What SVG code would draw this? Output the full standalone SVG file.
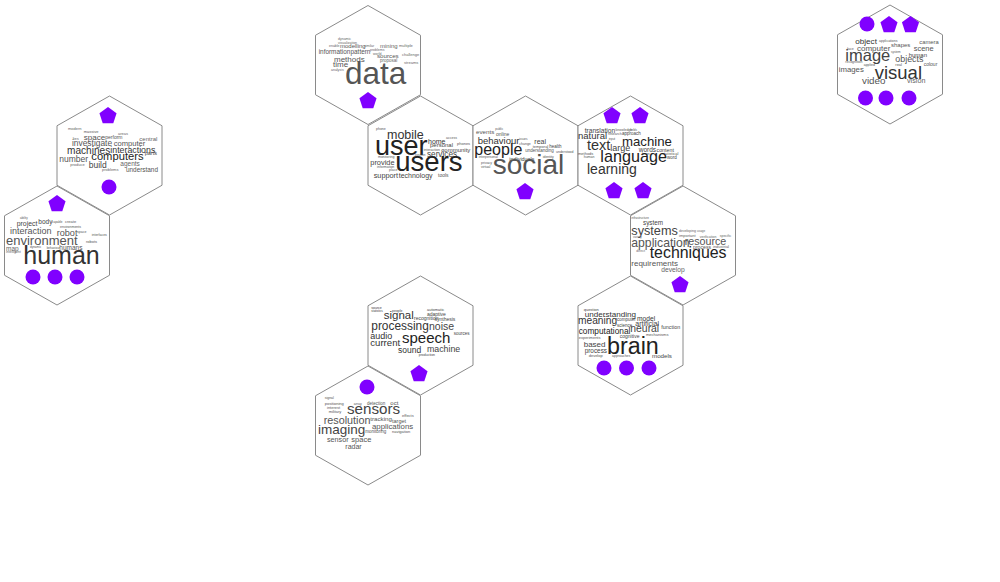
<svg xmlns="http://www.w3.org/2000/svg" width="1000" height="582" viewBox="0 0 1000 582">
<style>
text{font-family:"Liberation Sans",Arial,sans-serif;fill:#555}
.hx{fill:#fff;stroke:#8a8a8a;stroke-width:1}
.mk{fill:#8000ff}
.d1{fill:#222}.d2{fill:#333}.d3{fill:#444}.d5{fill:#555}.d6{fill:#666}.d7{fill:#777}
</style>
<defs>
<polygon id="hex" class="hx" points="0,-59.5 52.5,-29.75 52.5,29.75 0,59.5 -52.5,29.75 -52.5,-29.75"/>
<polygon id="pent" class="mk" points="0,-9 8.56,-2.78 5.29,7.28 -5.29,7.28 -8.56,-2.78"/>
<circle id="dot" class="mk" r="7.5"/>
</defs>
<rect width="1000" height="582" fill="#fff"/>

<g id="hexagons">
<use href="#hex" x="368" y="65"/>
<use href="#hex" x="420.5" y="155.5"/>
<use href="#hex" x="525.5" y="155.5"/>
<use href="#hex" x="630.5" y="155.5"/>
<use href="#hex" x="683" y="245.5"/>
<use href="#hex" x="630.5" y="335.5"/>
<use href="#hex" x="420.5" y="335.5"/>
<use href="#hex" x="368" y="425.5"/>
<use href="#hex" x="890" y="64.5"/>
<use href="#hex" x="109.5" y="155.5"/>
<use href="#hex" x="57" y="245.5"/>
</g>

<g id="node-data">
<text x="338" y="40" font-size="3.5" class="d6">dynamic</text>
<text x="338" y="43.5" font-size="3.5" class="d6">visualization</text>
<text x="329" y="47" font-size="3.5" class="d6">enable</text>
<text x="340" y="47.5" font-size="6" class="d5">modelling</text>
<text x="364" y="47" font-size="3.5" class="d6">similar</text>
<text x="380" y="47.5" font-size="6" class="d6">mining</text>
<text x="399" y="47" font-size="4" class="d6">multiple</text>
<text x="318.7" y="53.5" font-size="6.4" class="d5">information</text>
<text x="350.5" y="53.5" font-size="6.4" class="d5">pattern</text>
<text x="370" y="51" font-size="3.5" class="d6">problems</text>
<text x="373" y="55" font-size="3.5" class="d6">world</text>
<text x="377" y="58" font-size="6.2" class="d5">sources</text>
<text x="402" y="56" font-size="4" class="d6">challenge</text>
<text x="334" y="62" font-size="8" class="d5">methods</text>
<text x="380" y="62" font-size="4.5" class="d6">proposal</text>
<text x="333" y="67" font-size="8" class="d5">time</text>
<text x="404" y="64" font-size="4" class="d6">streams</text>
<text x="331" y="71" font-size="3.5" class="d6">analysis</text>
<text x="345" y="83.5" font-size="31.5" fill="#5a5a5a">data</text>
<use href="#pent" x="368" y="101"/>
</g>

<g id="node-users">
<text x="376" y="130.3" font-size="3.5" class="d5">phone</text>
<text x="387" y="138.7" font-size="12.5" class="d2">mobile</text>
<text x="375" y="154.7" font-size="27" class="d1">user</text>
<text x="428" y="143.7" font-size="7" class="d2">home</text>
<text x="446" y="139" font-size="3.5" class="d5">access</text>
<text x="430" y="147.2" font-size="6" class="d3">personal</text>
<text x="457" y="144.5" font-size="4" class="d5">phones</text>
<text x="423.7" y="150.5" font-size="3.5" class="d5">interaction</text>
<text x="441.3" y="151.5" font-size="6" class="d3">community</text>
<text x="427" y="157" font-size="8.2" class="d3">services</text>
<text x="378" y="158" font-size="3.5" class="d5">monitoring</text>
<text x="415" y="156" font-size="3" class="d5">position</text>
<text x="370.3" y="164.7" font-size="7.4" class="d3">provide</text>
<text x="377" y="167.5" font-size="3.5" class="d5">information</text>
<text x="395.3" y="171.3" font-size="27.5" class="d1">users</text>
<text x="389" y="171" font-size="3.5" class="d5">place</text>
<text x="373.7" y="177.5" font-size="7.3" class="d3">support</text>
<text x="398.7" y="177.5" font-size="7" class="d3">technology</text>
<text x="438" y="176.5" font-size="5" class="d5">tools</text>
</g>

<g id="node-social">
<text x="476" y="133.7" font-size="6.2" class="d5">events</text>
<text x="495.3" y="129.5" font-size="3" class="d5">public</text>
<text x="496" y="135.9" font-size="5" class="d5">online</text>
<text x="477.7" y="143.7" font-size="9.5" class="d2">behaviour</text>
<text x="519" y="139.5" font-size="3" class="d5">issues</text>
<text x="534.3" y="144" font-size="7" class="d3">real</text>
<text x="519.3" y="145.3" font-size="3.5" class="d5">change</text>
<text x="532.7" y="147.5" font-size="4" class="d5">temporal</text>
<text x="549.3" y="147.5" font-size="4.5" class="d3">health</text>
<text x="474.3" y="154.7" font-size="16" class="d1">people</text>
<text x="525.3" y="152.3" font-size="4.5" class="d5">understanding</text>
<text x="556" y="153" font-size="3.5" class="d5">understood</text>
<text x="478.7" y="158.3" font-size="3.3" class="d5">interpersonal</text>
<text x="509.3" y="160.7" font-size="5.4" class="d3">individuals</text>
<text x="542.7" y="157.5" font-size="3.5" class="d5">identity</text>
<text x="481" y="164" font-size="3.5" class="d5">privacy</text>
<text x="481" y="167.6" font-size="3.5" class="d5">virtual</text>
<text x="492.7" y="174.3" font-size="28" fill="#111">social</text>
<use href="#pent" x="525" y="192"/>
</g>

<g id="node-language">
<use href="#pent" x="612" y="116"/>
<use href="#pent" x="640" y="116"/>
<text x="584.7" y="132.7" font-size="6.6" class="d3">translation</text>
<text x="615.5" y="130.5" font-size="3.5" class="d5">knowledge</text>
<text x="630" y="130.5" font-size="3" class="d5">fields</text>
<text x="578" y="138.7" font-size="9.5" class="d2">natural</text>
<text x="608" y="135" font-size="3.5" class="d5">research</text>
<text x="622" y="134.5" font-size="4.5" class="d3">approach</text>
<text x="608.7" y="140" font-size="3" class="d5">input</text>
<text x="622" y="146" font-size="13.2" class="d1">machine</text>
<text x="587" y="150.3" font-size="14.5" class="d2">text</text>
<text x="610.3" y="150.7" font-size="9" class="d3">large</text>
<text x="638.7" y="152" font-size="6.5" class="d3">words</text>
<text x="656.5" y="152" font-size="5.3" class="d3">content</text>
<text x="662" y="155" font-size="4" class="d5">statistical</text>
<text x="578" y="154.5" font-size="4" class="d5">methods</text>
<text x="642" y="155" font-size="3.5" class="d5">learn</text>
<text x="667" y="158.5" font-size="4.5" class="d3">word</text>
<text x="583.7" y="158.3" font-size="3.5" class="d5">human</text>
<text x="600.3" y="162" font-size="16.2" class="d1">language</text>
<text x="587" y="173.7" font-size="14" class="d2">learning</text>
<use href="#pent" x="614" y="191"/>
<use href="#pent" x="643" y="191"/>
</g>

<g id="node-techniques">
<text x="631.3" y="218.5" font-size="3" class="d5">infrastructure</text>
<text x="643" y="225" font-size="6.3" class="d3">system</text>
<text x="631.3" y="235" font-size="12.7" class="d3">systems</text>
<text x="679" y="232" font-size="3.5" class="d6">developing</text>
<text x="697" y="232" font-size="3" class="d6">usage</text>
<text x="633" y="238" font-size="3" class="d6">variety</text>
<text x="679" y="237" font-size="4" class="d6">important</text>
<text x="699.7" y="237.5" font-size="3.5" class="d6">verification</text>
<text x="719.7" y="236.5" font-size="3.5" class="d6">specific</text>
<text x="631.3" y="246.7" font-size="12.2" class="d5">application</text>
<text x="684.7" y="245" font-size="10.7" class="d5">resource</text>
<text x="693" y="249" font-size="5.2" class="d5">process</text>
<text x="713" y="247.6" font-size="4" class="d6">industrial</text>
<text x="636.3" y="252" font-size="3.5" class="d6">direct</text>
<text x="649.7" y="257.7" font-size="15.9" class="d1">techniques</text>
<text x="631.3" y="266" font-size="8" class="d5">requirements</text>
<text x="661.3" y="271.5" font-size="6.7" class="d6">develop</text>
<use href="#pent" x="680" y="285"/>
</g>

<g id="node-brain">
<text x="583.7" y="310.5" font-size="4" class="d3">question</text>
<text x="584.7" y="317.3" font-size="8.1" class="d2">understanding</text>
<text x="578" y="324.3" font-size="10.2" class="d2">meaning</text>
<text x="617" y="321" font-size="4.5" class="d3">computer</text>
<text x="637" y="320.7" font-size="6.7" class="d2">model</text>
<text x="617" y="326.5" font-size="4.5" class="d3">science</text>
<text x="635.3" y="326" font-size="7" class="d3">artificial</text>
<text x="578.7" y="334" font-size="8.3" class="d1">computational</text>
<text x="630.3" y="332.3" font-size="10.4" class="d3">neural</text>
<text x="661.3" y="328.7" font-size="5.4" class="d3">function</text>
<text x="646" y="336.3" font-size="4" class="d5">mechanisms</text>
<text x="619.7" y="338.3" font-size="5" class="d3">cognitive</text>
<text x="578.7" y="338.5" font-size="4" class="d5">experiments</text>
<text x="583.7" y="347" font-size="8" class="d3">based</text>
<text x="584.7" y="353" font-size="6.4" class="d3">process</text>
<text x="588.7" y="356.8" font-size="4" class="d5">develop</text>
<text x="612" y="357.3" font-size="3.5" class="d5">approaches</text>
<text x="607" y="354.3" font-size="23.3" class="d1">brain</text>
<text x="652" y="357.7" font-size="6.2" class="d3">models</text>
<use href="#dot" x="604" y="368"/>
<use href="#dot" x="626.5" y="368"/>
<use href="#dot" x="649" y="368"/>
</g>

<g id="node-visual">
<use href="#dot" x="867" y="24"/>
<use href="#pent" x="889" y="25"/>
<use href="#pent" x="910.5" y="25"/>
<text x="855.3" y="44" font-size="8.1" class="d2">object</text>
<text x="879" y="42" font-size="3.5" class="d5">applications</text>
<text x="919.3" y="44.3" font-size="5.8" class="d5">camera</text>
<text x="847" y="50" font-size="3.5" class="d5">face</text>
<text x="857" y="50.7" font-size="8" class="d5">computer</text>
<text x="891" y="47" font-size="6" class="d5">shapes</text>
<text x="913.7" y="50.7" font-size="7.5" class="d5">scene</text>
<text x="891" y="53" font-size="3" class="d5">system</text>
<text x="908.7" y="57.3" font-size="6" class="d3">human</text>
<text x="845.3" y="61" font-size="16.5" class="d3">image</text>
<text x="895.3" y="62.3" font-size="8.9" class="d5">objects</text>
<text x="845.3" y="63" font-size="3.5" class="d5">recognition</text>
<text x="863.7" y="66.3" font-size="3.5" class="d5">applied</text>
<text x="895.3" y="66" font-size="4" class="d5">real</text>
<text x="923.7" y="66" font-size="5" class="d5">colour</text>
<text x="838.7" y="72" font-size="7.8" class="d5">images</text>
<text x="874.7" y="79" font-size="18.5" class="d2">visual</text>
<text x="862" y="84" font-size="9.8" class="d5">video</text>
<text x="907" y="82.7" font-size="7.2" class="d6">vision</text>
<use href="#dot" x="865.5" y="98"/>
<use href="#dot" x="886" y="98"/>
<use href="#dot" x="909" y="98"/>
</g>

<g id="node-computers">
<use href="#pent" x="108" y="116"/>
<text x="68" y="130.3" font-size="4" class="d6">modern</text>
<text x="83.7" y="132.9" font-size="4" class="d5">massive</text>
<text x="118" y="134.7" font-size="4" class="d6">areas</text>
<text x="72.7" y="139.5" font-size="4" class="d6">lies</text>
<text x="83.7" y="139.7" font-size="8.1" class="d5">space</text>
<text x="105.3" y="138.7" font-size="5" class="d5">perform</text>
<text x="139.3" y="141.3" font-size="6" class="d6">central</text>
<text x="72" y="146.3" font-size="8.4" class="d5">investigate</text>
<text x="113.7" y="145.5" font-size="7.6" class="d5">computer</text>
<text x="67" y="154.3" font-size="10.1" class="d2">machines</text>
<text x="110.3" y="152.7" font-size="8.8" class="d2">interactions</text>
<text x="59.3" y="162" font-size="8.5" class="d5">number</text>
<text x="91.3" y="159.7" font-size="11.2" class="d1">computers</text>
<text x="144.7" y="155" font-size="5.5" class="d3">parts</text>
<text x="70.3" y="165.5" font-size="4" class="d6">produce</text>
<text x="88.7" y="167.7" font-size="8.5" class="d3">build</text>
<text x="120.3" y="165.5" font-size="6.5" class="d6">agents</text>
<text x="102" y="170.8" font-size="4" class="d6">problems</text>
<text x="126" y="171.5" font-size="6.4" class="d5">understand</text>
<use href="#dot" x="109" y="187"/>
</g>

<g id="node-human">
<use href="#pent" x="57" y="204"/>
<text x="20" y="219" font-size="3" class="d5">ability</text>
<text x="38.3" y="224" font-size="6.5" class="d3">body</text>
<text x="52" y="222.7" font-size="3" class="d5">capable</text>
<text x="16.7" y="225.7" font-size="6.9" class="d3">project</text>
<text x="65" y="223.3" font-size="4" class="d5">create</text>
<text x="60" y="227.5" font-size="3.5" class="d5">environments</text>
<text x="10" y="234" font-size="9" class="d5">interaction</text>
<text x="77" y="232.8" font-size="3.5" class="d5">space</text>
<text x="56.7" y="236" font-size="9.1" class="d5">robot</text>
<text x="91.7" y="236" font-size="3.5" class="d5">interfaces</text>
<text x="6" y="245" font-size="13" class="d5">environment</text>
<text x="86" y="243" font-size="4" class="d5">robots</text>
<text x="6" y="250.5" font-size="6.5" class="d6">map</text>
<text x="30" y="248" font-size="3" class="d5">dynamic</text>
<text x="46.7" y="249" font-size="3" class="d5">behaviour</text>
<text x="59.3" y="249.5" font-size="6.5" class="d5">humans</text>
<text x="6" y="253" font-size="3.5" class="d6">intelligent</text>
<text x="23.3" y="264" font-size="25" class="d2">human</text>
<use href="#dot" x="33" y="277"/>
<use href="#dot" x="55" y="277"/>
<use href="#dot" x="77" y="277"/>
</g>

<g id="node-speech">
<text x="371.3" y="308.7" font-size="3.5" class="d2">source</text>
<text x="371.3" y="311.8" font-size="3" class="d2">statistics</text>
<text x="392" y="311.7" font-size="3.5" class="d3">people</text>
<text x="427" y="311" font-size="4" class="d3">automatic</text>
<text x="427" y="316" font-size="5" class="d3">adaptive</text>
<text x="383.7" y="319.3" font-size="11.5" class="d2">signal</text>
<text x="414" y="320" font-size="5" class="d3">recognition</text>
<text x="434.5" y="320.7" font-size="5" class="d3">synthesis</text>
<text x="371.3" y="330" font-size="11.9" class="d2">processing</text>
<text x="429" y="330" font-size="10.5" class="d3">noise</text>
<text x="453.7" y="335" font-size="4.5" class="d3">sources</text>
<text x="370.3" y="339.3" font-size="9" class="d2">audio</text>
<text x="402" y="343.3" font-size="15" class="d1">speech</text>
<text x="370.3" y="345.7" font-size="9.6" class="d2">current</text>
<text x="398" y="352.7" font-size="8.5" class="d2">sound</text>
<text x="427" y="352.3" font-size="8.8" class="d3">machine</text>
<text x="418.7" y="356.3" font-size="3.5" class="d3">production</text>
<use href="#pent" x="419" y="374"/>
</g>

<g id="node-sensors">
<use href="#dot" x="367" y="387"/>
<text x="324.7" y="399" font-size="3.5" class="d5">signal</text>
<text x="324.7" y="404.7" font-size="4" class="d5">positioning</text>
<text x="353.7" y="405" font-size="3.5" class="d5">array</text>
<text x="367" y="405" font-size="4.5" class="d5">detection</text>
<text x="390.3" y="405" font-size="6" class="d5">oct</text>
<text x="327" y="408.5" font-size="4" class="d5">interest</text>
<text x="328.7" y="412.7" font-size="4" class="d5">military</text>
<text x="347" y="414" font-size="15.2" class="d3">sensors</text>
<text x="402" y="417.3" font-size="4" class="d5">effects</text>
<text x="323.7" y="424" font-size="10.8" class="d5">resolution</text>
<text x="370.3" y="421.3" font-size="6.2" class="d5">tracking</text>
<text x="392" y="422.7" font-size="5.5" class="d5">target</text>
<text x="372" y="429" font-size="7.8" class="d5">applications</text>
<text x="318" y="434" font-size="13.5" class="d3">imaging</text>
<text x="365.3" y="433.3" font-size="4.5" class="d5">monitoring</text>
<text x="392" y="432.6" font-size="4" class="d5">navigation</text>
<text x="327" y="442.3" font-size="7.2" class="d5">sensor</text>
<text x="351.3" y="442.3" font-size="7.5" class="d5">space</text>
<text x="345.3" y="448.5" font-size="7" class="d5">radar</text>
</g>

<g id="connectors"></g>
</svg>
